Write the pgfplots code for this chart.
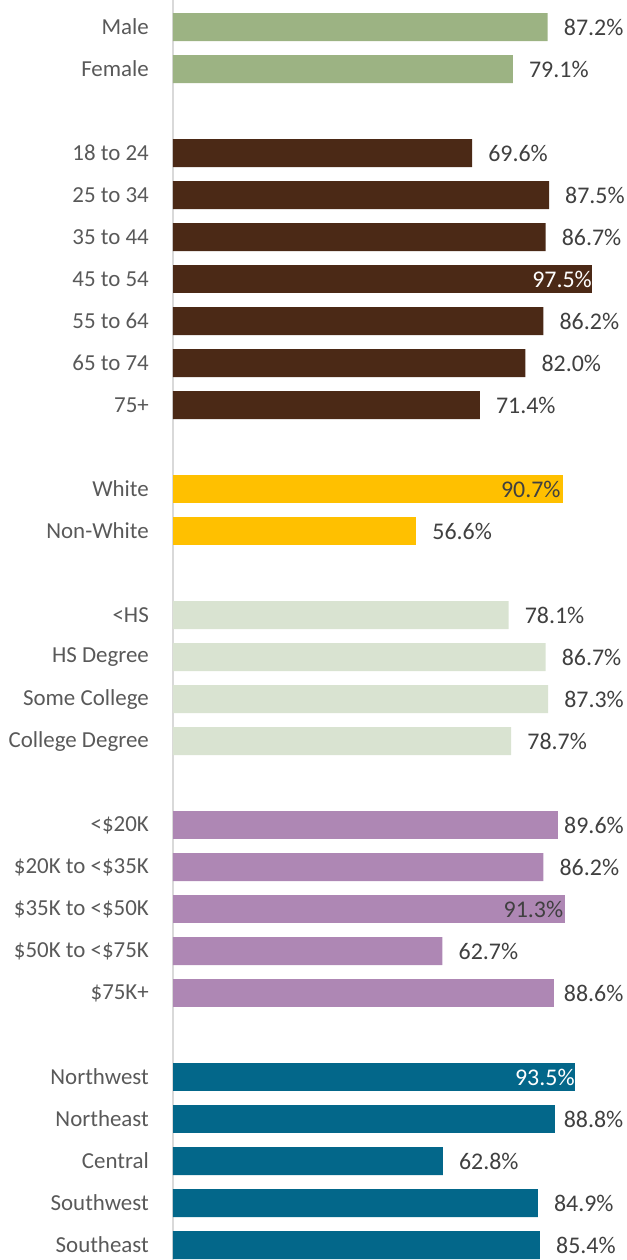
\documentclass[border=0pt]{standalone}
\usepackage{pgfplots}
\pgfplotsset{compat=1.18}
\usepackage{fontspec}
\setmainfont{Carlito}
\definecolor{cgreen}{HTML}{9CB383}
\definecolor{cbrown}{HTML}{4B2916}
\definecolor{cyellow}{HTML}{FFC000}
\definecolor{clight}{HTML}{D9E3D1}
\definecolor{cpurple}{HTML}{AE87B4}
\definecolor{cteal}{HTML}{03678A}
\definecolor{ctext}{HTML}{595959}
\definecolor{cval}{HTML}{404040}
\begin{document}
\begin{tikzpicture}
\begin{axis}[
  at={(0,0)}, anchor=south west,
  scale only axis, width=454bp, height=1260bp,
  xmin=0, xmax=105.65,
  ymin=-0.643, ymax=29.357, y dir=reverse,
  xbar, bar width=28bp, bar shift=0pt,
  axis x line=none, axis y line*=left,
  axis line style={-, draw=black!15, line width=1.5bp},
  major tick length=0pt,
  ytick={0,1,3,4,5,6,7,8,9,11,12,14,15,16,17,19,20,21,22,23,25,26,27,28,29},
  yticklabels={Male,Female,18 to 24,25 to 34,35 to 44,45 to 54,55 to 64,65 to 74,75+,White,Non-White,{<}HS,HS Degree,Some College,College Degree,{<}\$20K,\$20K to {<}\$35K,\$35K to {<}\$50K,\$50K to {<}\$75K,\$75K+,Northwest,Northeast,Central,Southwest,Southeast},
  yticklabel style={font=\fontsize{23}{25}\selectfont, text=ctext, inner sep=0pt, xshift=-24bp},
  clip=false,
  nodes near coords={\pgfmathprintnumber{\pgfplotspointmeta}\%},
  point meta=x,
  every node near coord/.append style={font=\fontsize{24}{26}\selectfont, text=cval, anchor=west, inner sep=0pt, xshift=16bp},
  /pgf/number format/.cd, fixed, fixed zerofill, precision=1, assume math mode=true,
]
\addplot[fill=cgreen, draw=none] coordinates {(87.2,0) (79.1,1)};
\addplot[fill=cbrown, draw=none] coordinates {(69.6,3) (87.5,4) (86.7,5) (86.2,7) (82.0,8) (71.4,9)};
\addplot[fill=cbrown, draw=none, every node near coord/.append style={anchor=east, xshift=-16bp, text=white}] coordinates {(97.5,6)};
\addplot[fill=cyellow, draw=none, every node near coord/.append style={anchor=east, xshift=-18bp}] coordinates {(90.7,11)};
\addplot[fill=cyellow, draw=none] coordinates {(56.6,12)};
\addplot[fill=clight, draw=none] coordinates {(78.1,14) (86.7,15) (87.3,16) (78.7,17)};
\addplot[fill=cpurple, draw=none, every node near coord/.append style={xshift=-10bp}] coordinates {(89.6,19)};
\addplot[fill=cpurple, draw=none] coordinates {(86.2,20) (62.7,22)};
\addplot[fill=cpurple, draw=none, every node near coord/.append style={xshift=-6bp}] coordinates {(88.6,23)};
\addplot[fill=cpurple, draw=none, every node near coord/.append style={anchor=east, xshift=-18bp}] coordinates {(91.3,21)};
\addplot[fill=cteal, draw=none, every node near coord/.append style={anchor=east, xshift=-16bp, text=white}] coordinates {(93.5,25)};
\addplot[fill=cteal, draw=none, every node near coord/.append style={xshift=-7bp}] coordinates {(88.8,26)};
\addplot[fill=cteal, draw=none] coordinates {(62.8,27) (84.9,28) (85.4,29)};
\end{axis}
\pgfresetboundingbox
\path[use as bounding box] (-173bp,0) rectangle (454bp,1260bp);
\end{tikzpicture}
\end{document}
